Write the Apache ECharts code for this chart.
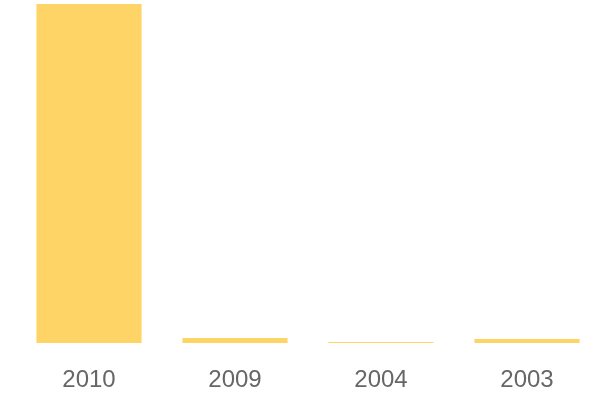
<!DOCTYPE html>
<html><head><meta charset="utf-8">
<script src="https://cdn.jsdelivr.net/npm/echarts@6/dist/echarts.min.js"></script>
<style>html,body{margin:0;padding:0;background:#fff}#c{width:600px;height:400px}</style>
</head><body><div id="c"></div>
<script>
const categories = ['2010', '2009', '2004', '2003'];
const values = [339, 5, 1, 4];
const chart = echarts.init(document.getElementById('c'), null, {renderer: 'canvas'});
chart.setOption({
  animation: false,
  grid: {left: 16, right: 0, top: 4, bottom: 57, containLabel: false},
  xAxis: {
    type: 'category', data: categories,
    axisLine: {show: false}, axisTick: {show: false},
    axisLabel: {color: '#666', fontSize: 24, fontFamily: 'Liberation Sans', margin: 25}
  },
  yAxis: {type: 'value', min: 0, max: 339, show: false, splitLine: {show: false}},
  series: [{type: 'bar', data: values, barWidth: '72%', itemStyle: {color: '#ffd466'}}]
});
</script></body></html>
